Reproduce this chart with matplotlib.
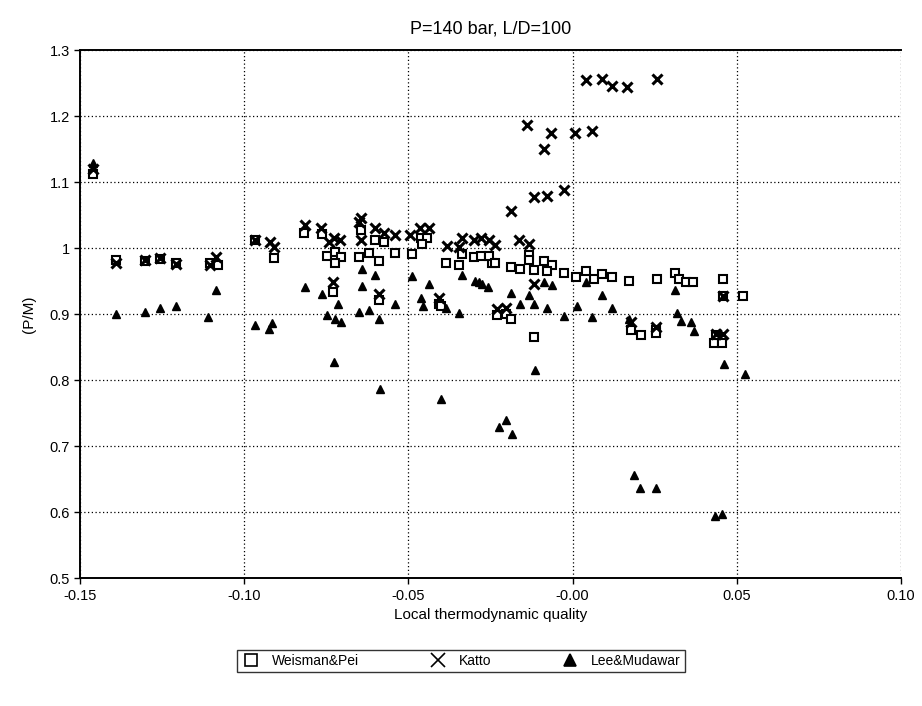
import numpy as np
import matplotlib.pyplot as plt

plt.rcParams['font.family'] = ['Liberation Sans', 'DejaVu Sans']

# Weisman & Pei
wp_x = [-0.1461, -0.1390, -0.1304, -0.1256, -0.1208, -0.1104, -0.1081, -0.0969, -0.0911,
        -0.0819, -0.0763, -0.0748, -0.0725, -0.0704, -0.0725, -0.0731, -0.0646, -0.0651,
        -0.0621, -0.0591, -0.0601, -0.0575, -0.0591, -0.0540, -0.0489, -0.0463, -0.0443,
        -0.0458, -0.0408, -0.0402, -0.0387, -0.0347, -0.0336, -0.0301, -0.0280, -0.0245,
        -0.0255, -0.0235, -0.0230, -0.0204, -0.0189, -0.0189, -0.0159, -0.0133, -0.0133,
        -0.0118, -0.0118, -0.0088, -0.0064, -0.0077, -0.0027, 0.0009, 0.0040, 0.0065,
        0.0091, 0.0121, 0.0172, 0.0177, 0.0207, 0.0253, 0.0253, 0.0258, 0.0312, 0.0324,
        0.0345, 0.0367, 0.0431, 0.0454, 0.0436, 0.0458, 0.0458, 0.0519]
wp_y = [1.113, 0.982, 0.980, 0.984, 0.977, 0.977, 0.974, 1.012, 0.985,
        1.023, 1.021, 0.988, 0.994, 0.986, 0.978, 0.934, 1.027, 0.986,
        0.992, 0.981, 1.012, 1.010, 0.922, 0.993, 0.991, 1.015, 1.015,
        1.006, 0.916, 0.912, 0.977, 0.974, 0.991, 0.986, 0.988, 0.977,
        0.988, 0.977, 0.898, 0.901, 0.893, 0.972, 0.969, 0.989, 0.982,
        0.967, 0.866, 0.981, 0.974, 0.966, 0.962, 0.957, 0.966, 0.953,
        0.961, 0.956, 0.950, 0.876, 0.868, 0.876, 0.871, 0.953, 0.962, 0.953,
        0.949, 0.949, 0.856, 0.856, 0.868, 0.954, 0.927, 0.927]

# Katto
ka_x = [-0.1461, -0.1390, -0.1304, -0.1256, -0.1208, -0.1104, -0.1085, -0.0969, -0.0921,
        -0.0911, -0.0816, -0.0766, -0.0741, -0.0728, -0.0710, -0.0731, -0.0646, -0.0651,
        -0.0646, -0.0601, -0.0575, -0.0591, -0.0540, -0.0494, -0.0466, -0.0438, -0.0408,
        -0.0382, -0.0338, -0.0345, -0.0301, -0.0279, -0.0255, -0.0235, -0.0230, -0.0204,
        -0.0189, -0.0164, -0.0138, -0.0133, -0.0118, -0.0118, -0.0088, -0.0077, -0.0067,
        -0.0027, 0.0007, 0.0040, 0.0060, 0.0091, 0.0119, 0.0167, 0.0177, 0.0253, 0.0256,
        0.0436, 0.0457, 0.0458]
ka_y = [1.120, 0.978, 0.982, 0.985, 0.976, 0.975, 0.987, 1.013, 1.010,
        1.002, 1.035, 1.030, 1.010, 1.016, 1.012, 0.948, 1.045, 1.040,
        1.012, 1.030, 1.023, 0.930, 1.020, 1.020, 1.030, 1.030, 0.924,
        1.003, 1.016, 1.002, 1.012, 1.015, 1.012, 1.005, 0.908, 0.910,
        1.057, 1.012, 1.186, 1.007, 1.077, 0.946, 1.150, 1.079, 1.174,
        1.088, 1.175, 1.254, 1.178, 1.256, 1.245, 1.244, 0.888, 0.880, 1.256,
        0.870, 0.870, 0.927]

# Lee & Mudawar
lm_x = [-0.1461, -0.1390, -0.1304, -0.1256, -0.1208, -0.1110, -0.1085, -0.0967, -0.0924,
        -0.0916, -0.0816, -0.0763, -0.0748, -0.0728, -0.0723, -0.0707, -0.0714, -0.0651,
        -0.0641, -0.0641, -0.0621, -0.0601, -0.0591, -0.0588, -0.0540, -0.0488, -0.0463,
        -0.0456, -0.0438, -0.0402, -0.0387, -0.0345, -0.0336, -0.0296, -0.0277, -0.0286,
        -0.0257, -0.0225, -0.0202, -0.0189, -0.0184, -0.0159, -0.0133, -0.0118, -0.0113,
        -0.0088, -0.0077, -0.0064, -0.0027, 0.0014, 0.0040, 0.0060, 0.0091, 0.0121,
        0.0172, 0.0187, 0.0204, 0.0255, 0.0312, 0.0319, 0.0329, 0.0360, 0.0370,
        0.0434, 0.0456, 0.0461, 0.0525]
lm_y = [1.129, 0.901, 0.903, 0.909, 0.912, 0.896, 0.937, 0.883, 0.877,
        0.886, 0.941, 0.930, 0.898, 0.828, 0.893, 0.888, 0.916, 0.904,
        0.969, 0.942, 0.907, 0.959, 0.892, 0.787, 0.915, 0.958, 0.924,
        0.912, 0.945, 0.771, 0.909, 0.902, 0.959, 0.951, 0.946, 0.949,
        0.941, 0.729, 0.739, 0.932, 0.718, 0.915, 0.929, 0.915, 0.815,
        0.949, 0.909, 0.944, 0.897, 0.912, 0.949, 0.896, 0.929, 0.909,
        0.892, 0.657, 0.636, 0.636, 0.936, 0.902, 0.890, 0.888, 0.875,
        0.594, 0.598, 0.824, 0.810]

x_ticks = [-0.15, -0.10, -0.05, 0.00, 0.05, 0.10]
x_labels = ['-0.15', '-0.10', '-0.05', '-0.00', '0.05', '0.10']
y_ticks = [0.5, 0.6, 0.7, 0.8, 0.9, 1.0, 1.1, 1.2, 1.3]
y_labels = ['0.5', '0.6', '0.7', '0.8', '0.9', '1', '1.1', '1.2', '1.3']

fig = plt.figure(figsize=(9.22, 7.06), dpi=100)
ax = fig.add_axes([0.087, 0.181, 0.890, 0.748])

ax.plot(wp_x, wp_y, linestyle='', marker='s', markersize=5.5, markerfacecolor='white',
        markeredgecolor='black', markeredgewidth=1.5, label='Weisman&Pei', zorder=3)
ax.plot(ka_x, ka_y, linestyle='', marker='x', markersize=6.5, color='black',
        markeredgewidth=2.2, label='Katto', zorder=4)
ax.plot(lm_x, lm_y, linestyle='', marker='^', markersize=5.5, color='black',
        label='Lee&Mudawar', zorder=3)

ax.set_xlim(-0.15, 0.10)
ax.set_ylim(0.5, 1.3)
ax.set_xticks(x_ticks)
ax.set_xticklabels(x_labels)
ax.set_yticks(y_ticks)
ax.set_yticklabels(y_labels)
ax.tick_params(labelsize=10.5, direction='out', length=4, width=1, colors='black')
ax.grid(True, linestyle=(0, (1, 2)), color='black', linewidth=0.9)
ax.set_axisbelow(True)
for s in ['left', 'bottom', 'top']:
    ax.spines[s].set_linewidth(1.4)
ax.spines['right'].set_visible(False)

ax.set_title('P=140 bar, L/D=100', fontsize=13, pad=12)
ax.set_xlabel('Local thermodynamic quality', fontsize=11)
ax.set_ylabel('(P/M)', fontsize=11, labelpad=10)

leg = fig.legend(loc='center', bbox_to_anchor=(0.5, 0.064), ncol=3, fontsize=10,
                 frameon=True, fancybox=False, edgecolor='black', columnspacing=5.0,
                 handletextpad=0.8, borderpad=0.3, handlelength=1.4, markerscale=1.5)
leg.get_frame().set_linewidth(1.0)
for h in leg.legend_handles:
    h.set_markeredgewidth(1.2)

fig.savefig('out.png', dpi=100)
